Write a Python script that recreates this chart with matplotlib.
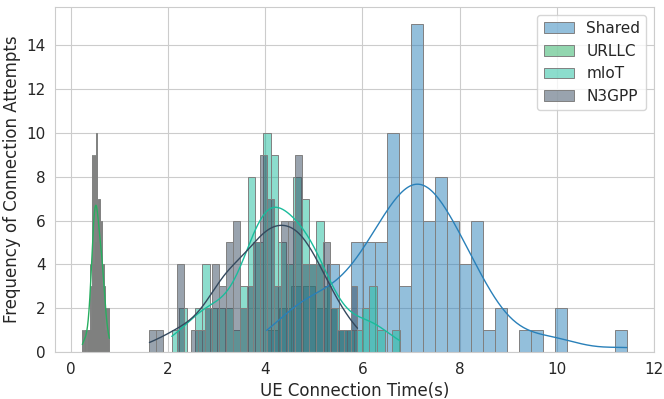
import numpy as np
import matplotlib.pyplot as plt
import seaborn as sns

# Connection time ranges (s) spanned by each slice, 30 bins each
shared_range = (4.03, 11.44)
urllc_range = (0.24, 0.795)
miot_range = (2.08, 6.77)
n3gpp_range = (1.62, 5.90)

# Bin counts (left to right)
shared_counts = [1, 2, 3, 3, 2, 4, 1, 5, 5, 5, 10, 3, 15, 6, 8,
                 6, 4, 6, 1, 2, 0, 1, 1, 0, 2, 0, 0, 0, 0, 1]
urllc_counts = [1, 0, 1, 1, 0, 1, 1, 1, 4, 1, 3, 9, 4, 9, 5,
                10, 6, 7, 3, 7, 4, 6, 3, 4, 3, 1, 2, 1, 0, 2]
miot_counts = [1, 2, 0, 2, 4, 2, 2, 2, 1, 3, 8, 5, 10, 9, 5,
               4, 8, 7, 4, 6, 3, 2, 1, 1, 1, 2, 3, 1, 0, 1]
n3gpp_counts = [1, 1, 0, 0, 4, 0, 1, 1, 2, 4, 3, 5, 6, 2, 3,
                5, 9, 7, 3, 6, 6, 9, 4, 4, 4, 5, 2, 1, 1, 3]

labels = ['Shared', 'URLLC', 'mIoT', 'N3GPP']
colors = ['#2980b9', '#27ae60', '#1abc9c', '#34495e']


def to_samples(counts, lo, hi):
    # rebuild connection times from bin counts (bin centres)
    edges = np.linspace(lo, hi, len(counts) + 1)
    centers = (edges[:-1] + edges[1:]) / 2
    s = np.repeat(centers, counts)
    s[0], s[-1] = lo, hi  # keep observed min / max
    return s


sns.set_style('whitegrid')

fig = plt.figure(figsize=(6.64, 3.99), dpi=100)
ax = fig.add_axes([0.083, 0.118, 0.902, 0.864])

series = [(shared_counts, shared_range), (urllc_counts, urllc_range),
          (miot_counts, miot_range), (n3gpp_counts, n3gpp_range)]

for (counts, rng), lab, col in zip(series, labels, colors):
    data = to_samples(counts, *rng)
    sns.histplot(data, bins=30, binrange=rng, kde=True, color=col, alpha=0.5,
                 edgecolor='gray', linewidth=0.7, line_kws={'linewidth': 1},
                 label=lab, ax=ax)

ax.set_xlabel('UE Connection Time(s)', fontsize=12)
ax.set_ylabel('Frequency of Connection Attempts', fontsize=12)
ax.tick_params(labelsize=11)
ax.legend(loc='upper right', fontsize=11)

fig.savefig('out.png', dpi=100)
